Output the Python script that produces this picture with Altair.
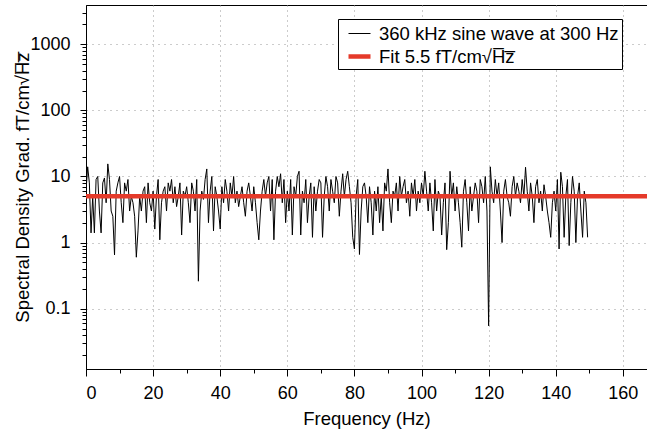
import altair as alt
import pandas as pd

# Spectral density readings, 0.5 Hz apart in 10 Hz blocks
block_00 = [6, 14, 8, 1.4, 5, 1.4, 9, 10, 3, 1.4, 8, 9.5, 4, 15.5, 9, 3, 2.5, 0.65, 6, 8]
block_10 = [10, 4, 2, 8, 6, 9, 3, 5, 4, 2.5, 0.6, 1.5, 5, 3, 6, 7, 2, 8, 4, 3]
block_20 = [6, 1.6, 5, 9, 1.1, 4, 6, 7, 3, 8, 6, 9, 4, 7, 3.5, 5, 8, 1.3, 6, 5]
block_30 = [7, 4, 2, 8, 6, 3, 9, 0.26, 3, 6, 4.5, 9, 13, 2, 6, 10, 1.5, 7, 5, 3]
block_40 = [1.6, 7, 4, 9, 6, 3, 8, 5, 10, 4, 6, 3.5, 5, 7, 4, 2.5, 6, 8, 5, 3]
block_50 = [7, 4, 2, 1.1, 3, 6, 9, 5, 8, 10, 3, 9, 1.1, 6, 10, 7, 11, 4, 9, 2]
block_60 = [6, 3, 9, 1.3, 7, 5, 10, 12, 1.3, 6, 4, 9, 2, 5, 8, 1.2, 7, 3, 6, 9]
block_70 = [8, 1.2, 5, 10, 7, 3, 9, 6, 4, 10, 8, 2.5, 6, 11, 5, 9, 12, 7, 4, 1.2]
block_80 = [0.8, 5, 9, 0.66, 3, 7, 8, 5, 2, 7, 4, 1.3, 6, 3, 7, 2, 5, 1.5, 8, 6]
block_90 = [13, 4, 2, 6, 5, 8, 3, 10, 5, 7, 9, 4, 6, 2.5, 8, 5, 9, 3, 6, 4]
block_100 = [8, 5, 12, 6, 3, 8, 4, 1.5, 9, 3, 6, 5, 1.3, 4, 8, 0.78, 2, 12, 5, 8]
block_110 = [3, 7, 4, 2, 0.85, 6, 9, 4, 1.5, 7, 3, 5, 8, 6, 2, 9, 7, 4, 10, 3]
block_120 = [0.055, 14, 6, 4, 9, 5, 8, 3, 1.0, 6, 9, 5, 4, 2.5, 7, 10, 5, 8, 6, 4]
block_130 = [9, 5, 13.8, 6, 3, 8, 5, 2, 7, 9, 4, 6, 3, 7.5, 5, 3, 2, 1.2, 4, 6]
block_140 = [3, 9, 0.8, 11.6, 7, 1.2, 5, 9, 0.9, 4, 10, 6, 1.0, 5, 8, 3, 1.2, 6, 4, 1.2]

spectrum = (block_00 + block_10 + block_20 + block_30 + block_40 + block_50 + block_60
            + block_70 + block_80 + block_90 + block_100 + block_110 + block_120
            + block_130 + block_140)
step_hz = 0.5
frequency = [i * step_hz for i in range(len(spectrum))]

series_name = "360 kHz sine wave at 300 Hz"
fit_name = "Fit 5.5 fT/cm\u221aH\u0305z\u0305"
fit_value = [5.0]

x_ticks = list(range(0, 170, 10))
y_ticks = []
for d in range(-2, 4):
    for m in range(1, 10):
        v = m * 10.0 ** d
        if 0.0122 < v < 3938:
            y_ticks.append(round(v, 6))

FONT = "Liberation Sans"
LABEL_SIZE = 18
TITLE_SIZE = 18.5

df_line = pd.DataFrame({"f": frequency, "v": spectrum, "s": series_name})
df_fit = pd.DataFrame({"v": fit_value, "s": fit_name})

decade = "abs(log(datum.value)/LN10 - round(log(datum.value)/LN10)) < 0.001"
major_x = "datum.value % 20 == 0"

x_enc = alt.X(
    "f:Q",
    title="Frequency (Hz)",
    scale=alt.Scale(domain=[0, 167.2], nice=False, zero=False),
    axis=alt.Axis(
        values=x_ticks,
        labelExpr=f"{major_x} ? datum.label : ''",
        tickSize={"condition": {"test": major_x, "value": 7}, "value": 4},
        grid=True,
        gridDash=[1, 4],
        gridColor="#999999",
        gridOpacity={"condition": {"test": f"{major_x} && datum.value > 0", "value": 1}, "value": 0},
        domainColor="black",
        tickColor="black",
        labelFont=FONT,
        labelFontSize=LABEL_SIZE,
        labelColor="black",
        labelPadding=8,
        titleFont=FONT,
        titleFontSize=TITLE_SIZE,
        titleFontWeight="normal",
        titleColor="black",
        titlePadding=7,
    ),
)

y_enc = alt.Y(
    "v:Q",
    title="Spectral Density Grad. fT/cm\u221aH\u0305z\u0305",
    scale=alt.Scale(type="log", domain=[0.0122, 3938], nice=False),
    axis=alt.Axis(
        values=y_ticks,
        labelExpr=f"{decade} ? format(datum.value, '~g') : ''",
        tickSize={"condition": {"test": decade, "value": 6}, "value": 4},
        grid=True,
        gridDash=[1, 5],
        gridColor="#999999",
        gridOpacity={"condition": {"test": decade, "value": 1}, "value": 0},
        domainColor="black",
        tickColor="black",
        labelFont=FONT,
        labelFontSize=LABEL_SIZE,
        labelColor="black",
        labelPadding=10,
        titleFont=FONT,
        titleFontSize=TITLE_SIZE,
        titleFontWeight="normal",
        titleColor="black",
        titlePadding=-3,
    ),
)

color_scale = alt.Scale(domain=[series_name, fit_name], range=["black", "#e53a2a"])
width_scale = alt.Scale(domain=[series_name, fit_name], range=[1, 4.5])
legend = alt.Legend(
    orient="none",
    legendX=252,
    legendY=14,
    title=None,
    symbolType="stroke",
    symbolSize=484,
    symbolOffset=5,
    labelFont=FONT,
    labelFontSize=TITLE_SIZE,
    labelColor="black",
    labelOffset=6,
    strokeColor="black",
    fillColor="white",
    padding=3,
    rowPadding=0,
    labelLimit=500,
)

line = alt.Chart(df_line).mark_line(strokeJoin="miter", clip=True).encode(
    x=x_enc,
    y=y_enc,
    color=alt.Color("s:N", scale=color_scale, legend=legend),
    strokeWidth=alt.StrokeWidth("s:N", scale=width_scale, legend=legend),
)

fit = alt.Chart(df_fit).mark_rule().encode(
    y=alt.Y("v:Q"),
    color=alt.Color("s:N", scale=color_scale, legend=legend),
    strokeWidth=alt.StrokeWidth("s:N", scale=width_scale, legend=legend),
)

chart = alt.layer(line, fit).properties(
    width=561,
    height=364,
    autosize=alt.AutoSizeParams(type="none"),
    padding={"left": 86, "top": 5, "right": 0, "bottom": 67},
    background="white",
).configure_view(stroke="black", strokeWidth=1)

chart.save("out.html", embed_options={"renderer": "svg", "actions": False})
